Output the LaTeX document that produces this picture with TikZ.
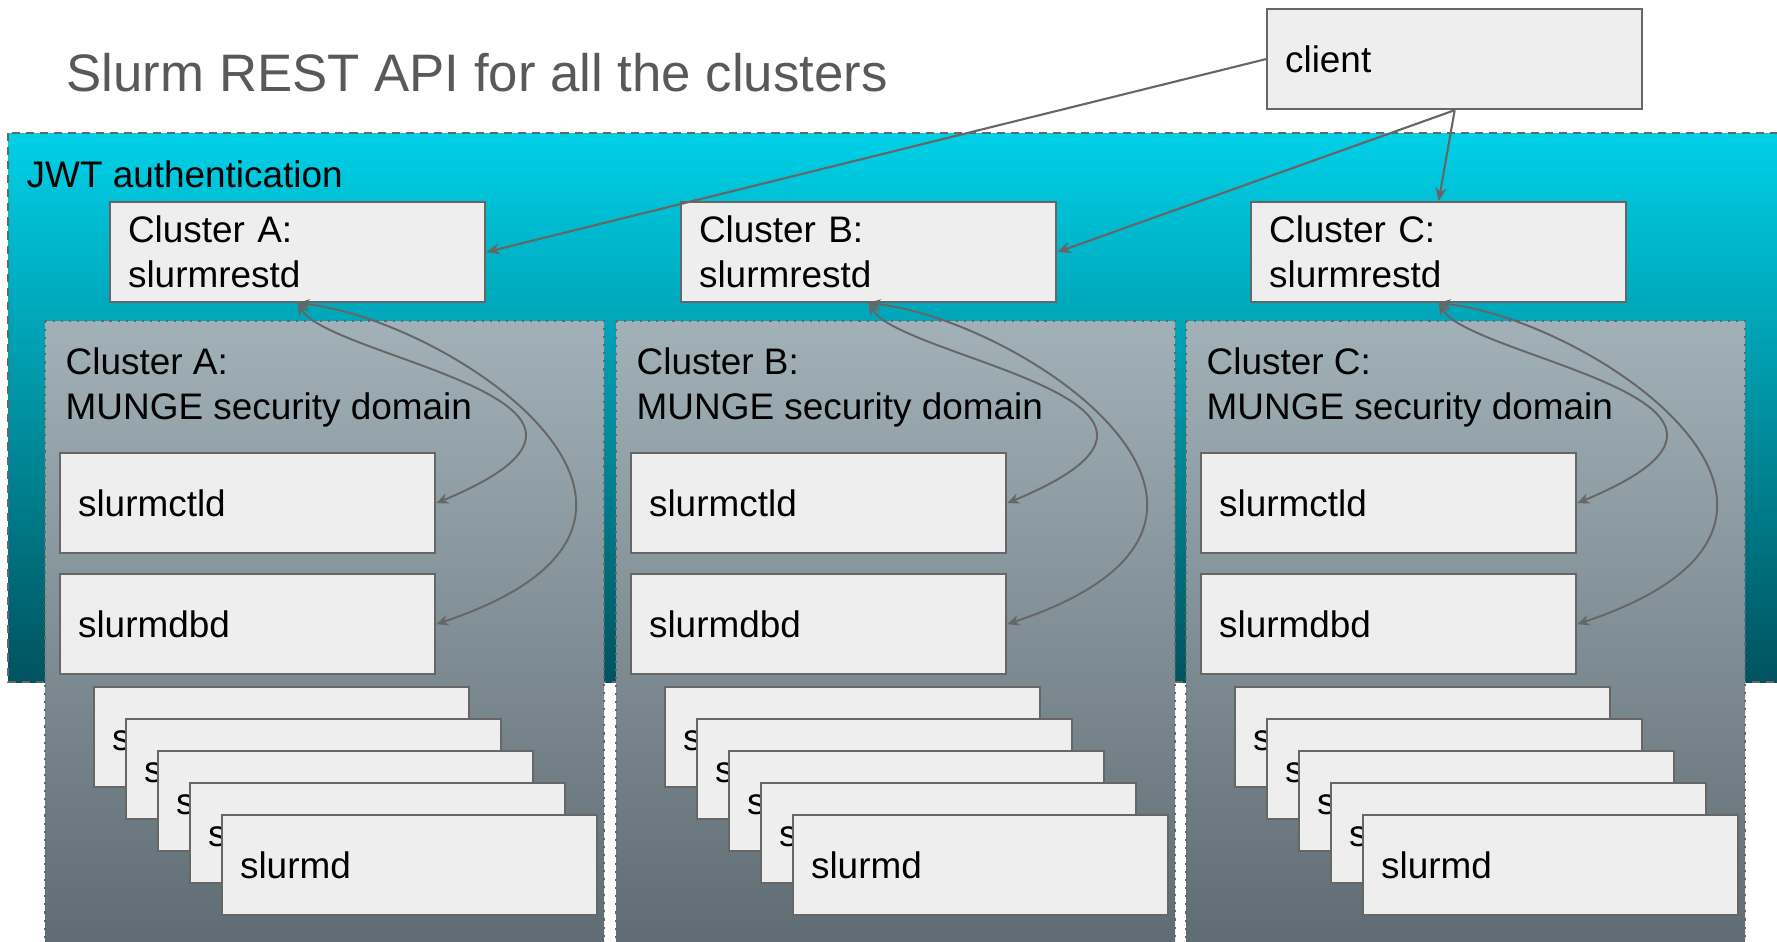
\documentclass[tikz,border=0pt]{standalone}
\usepackage{fontspec}
\setmainfont{Liberation Sans}
\usetikzlibrary{arrows.meta}

\definecolor{boxfill}{HTML}{EEEEEE}
\definecolor{boxline}{HTML}{666666}
\definecolor{jwttop}{HTML}{00D0E7}
\definecolor{jwtbot}{HTML}{00535E}
\definecolor{domtop}{HTML}{A2B1B8}
\definecolor{dombot}{HTML}{5E6A72}
\definecolor{titlegray}{HTML}{595959}

\begin{document}
\begin{tikzpicture}[x=0.01cm, y=-0.01cm,
    font=\fontsize{10.5}{12.8}\selectfont,
    daemon/.style={draw=boxline, line width=0.6pt, fill=boxfill, anchor=north west,
        minimum width=3.75cm, minimum height=1cm, text width=3.39cm, inner xsep=0.18cm, align=left},
    label/.style={anchor=base west, inner sep=0pt, align=left},
    link/.style={draw=boxline, line width=0.6pt, -{Stealth[length=3.8pt, width=3.2pt]}},
    sync/.style={draw=boxline, line width=0.55pt, {Stealth[length=3.4pt, width=3pt]}-{Stealth[length=3.4pt, width=3pt]}}]
    \useasboundingbox (0,0) rectangle (1777,941);
    \node[label, font=\fontsize{15}{18}\selectfont, text=titlegray] (title) at (66,91) {Slurm REST API for all the clusters};
    % JWT zone
    \draw[draw=boxline, line width=0.6pt, dash pattern=on 2.3pt off 1.7pt, top color=jwttop, bottom color=jwtbot] (8,133) rectangle (1800,682);
    \node[label] (jwt) at (26,187) {JWT authentication};
    \node[daemon] (client) at (1266,8) {client};
    \foreach \cl/\off in {A/0, B/571, C/1141} {
        \draw[draw=boxline, line width=0.6pt, dash pattern=on 0.6pt off 1.7pt, top color=domtop, bottom color=dombot] (45+\off,321) rectangle (604+\off,960);
        \node[label] (dom\cl) at (65+\off,419) {Cluster \cl:\\MUNGE security domain};
        \node[daemon] (restd\cl) at (109+\off,201) {Cluster \cl:\\slurmrestd};
        \node[daemon] (ctld\cl) at (59+\off,452) {slurmctld};
        \node[daemon] (dbd\cl) at (59+\off,573) {slurmdbd};
        \foreach \k in {0,...,4}
            \node[daemon] (slurmd\cl\k) at (93+32*\k+\off,686+32*\k) {slurmd};
        \draw[sync] (restd\cl.south) .. controls +(33,56) and +(246,-102) .. (ctld\cl.east);
        \draw[sync] (restd\cl.south) .. controls +(153,16) and +(313,-104) .. (dbd\cl.east);
    }
    \draw[link] (client.west) -- (restdA.east);
    \draw[link] (client.south) -- (restdB.east);
    \draw[link] (client.south) -- (restdC.north);
\end{tikzpicture}
\end{document}
